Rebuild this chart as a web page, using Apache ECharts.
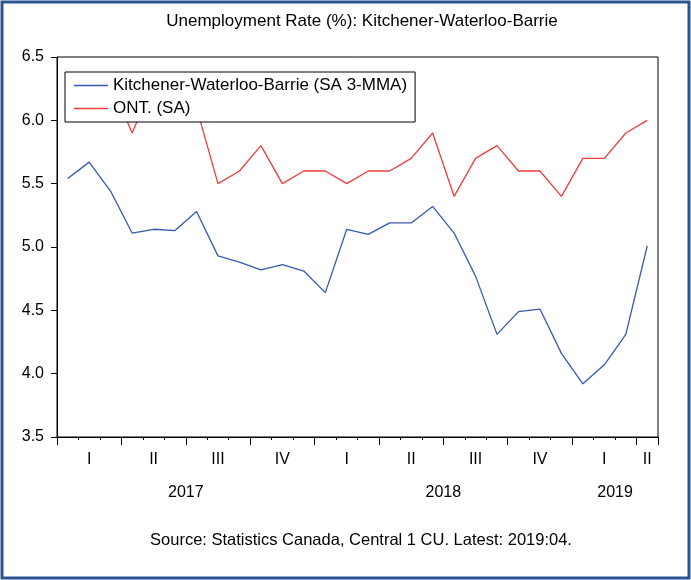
<!DOCTYPE html>
<html>
<head>
<meta charset="utf-8">
<script src="https://cdn.jsdelivr.net/npm/echarts@6/dist/echarts.min.js"></script>
<style>
html,body{margin:0;padding:0;background:#fff;}
#c{width:691px;height:580px;}
</style>
</head>
<body>
<div id="c"></div>
<script>
const months = ['2017:01','2017:02','2017:03','2017:04','2017:05','2017:06','2017:07','2017:08','2017:09','2017:10','2017:11','2017:12',
  '2018:01','2018:02','2018:03','2018:04','2018:05','2018:06','2018:07','2018:08','2018:09','2018:10','2018:11','2018:12',
  '2019:01','2019:02','2019:03','2019:04'];
const kwb = [5.54,5.67,5.44,5.11,5.14,5.13,5.28,4.93,4.88,4.82,4.86,4.81,4.64,5.14,5.10,5.19,5.19,5.32,5.11,4.77,4.31,4.49,4.51,4.16,3.92,4.07,4.31,5.01];
const ont = [6.3,6.2,6.3,5.9,6.3,6.3,6.1,5.5,5.6,5.8,5.5,5.6,5.6,5.5,5.6,5.6,5.7,5.9,5.4,5.7,5.8,5.6,5.6,5.4,5.7,5.7,5.9,6.0];
const seriesNames = ['Kitchener-Waterloo-Barrie (SA 3-MMA)','ONT. (SA)'];
const quarterLabels = ['I','II','III','IV'];
const yTicks = {min:3.5, max:6.5, interval:0.5};
const titleText = 'Unemployment Rate (%): Kitchener-Waterloo-Barrie';
const sourceText = 'Source: Statistics Canada, Central 1 CU. Latest: 2019:04.';

// year label positions: centre of each year's span of months
const years = [];
months.forEach((m,i)=>{
  const y = m.slice(0,4);
  let e = years.find(o=>o.y===y);
  if(!e){ e={y:y,s:i,e:i+1}; years.push(e);} else e.e=i+1;
});
const yearCenters = years.map(o=>(o.s+o.e)/2);

const FONT = 'Liberation Sans, Arial, sans-serif';
const chart = echarts.init(document.getElementById('c'), null, {renderer:'canvas'});
const monthNum = v => parseInt(v.slice(5),10);

chart.setOption({
  animation:false,
  backgroundColor:'#fff',
  title:[
    {text:titleText, left:357, top:8, textAlign:'center',
     textStyle:{fontFamily:FONT, fontSize:17, fontWeight:'normal', color:'#000'}},
    {text:sourceText, left:356, top:527, textAlign:'center',
     textStyle:{fontFamily:FONT, fontSize:16.5, fontWeight:'normal', color:'#000'}}
  ],
  graphic:[{type:'rect', shape:{x:2,y:2,width:687,height:576}, style:{fill:'none', stroke:'#2B5592', lineWidth:3}, silent:true}],
  legend:{
    orient:'vertical', left:65, top:72, padding:[5,8,5,9], itemGap:6,
    icon:'rect', itemWidth:34, itemHeight:1.4, backgroundColor:'#fff', borderColor:'#000', borderWidth:1,
    textStyle:{fontFamily:FONT, fontSize:17, color:'#000'},
    data:seriesNames
  },
  grid:{left:57, right:33, top:57, bottom:143, show:true, borderColor:'#000', borderWidth:1, containLabel:false},
  xAxis:[
    {type:'category', data:months, boundaryGap:true,
     axisLine:{lineStyle:{color:'#000', width:1}},
     axisTick:{show:true, interval:0, length:3, lineStyle:{color:'#000'}},
     axisLabel:{show:false}, splitLine:{show:false}},
    {type:'category', data:months, boundaryGap:true, position:'bottom',
     axisLine:{show:false},
     axisTick:{show:true, length:8, interval:(i)=>i%3===0, lineStyle:{color:'#000'}},
     axisLabel:{show:true, interval:(i,v)=>monthNum(v)%3===2 || i===months.length-1,
       formatter:(v)=>quarterLabels[Math.floor((monthNum(v)-1)/3)],
       margin:15, fontFamily:FONT, fontSize:16, color:'#000'},
     splitLine:{show:false}},
    {type:'value', min:0, max:months.length, position:'bottom',
     axisLine:{show:false}, axisTick:{show:false}, splitLine:{show:false},
     axisLabel:{show:true, customValues:yearCenters, margin:48,
       formatter:(v)=>{const k=yearCenters.findIndex(c=>Math.abs(c-v)<1e-6); return k>=0?years[k].y:'';},
       fontFamily:FONT, fontSize:16, color:'#000'}}
  ],
  yAxis:{type:'value', min:yTicks.min, max:yTicks.max, interval:yTicks.interval,
    axisLine:{show:true, lineStyle:{color:'#000'}},
    axisTick:{show:true, length:6, lineStyle:{color:'#000'}},
    splitLine:{show:false},
    axisLabel:{margin:13, formatter:(v)=>v.toFixed(1), fontFamily:FONT, fontSize:16, color:'#000'}},
  series:[
    {name:seriesNames[0], type:'line', xAxisIndex:0, data:kwb, symbol:'none',
     lineStyle:{color:'#3A58B0', width:1.3}, itemStyle:{color:'#3A58B0'}},
    {name:seriesNames[1], type:'line', xAxisIndex:0, data:ont, symbol:'none',
     lineStyle:{color:'#F03C3C', width:1.3}, itemStyle:{color:'#F03C3C'}}
  ]
});
</script>
</body>
</html>
